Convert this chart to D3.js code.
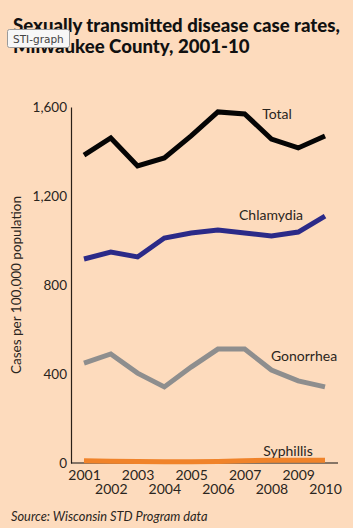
<!DOCTYPE html>
<html lang="en">
  <head>
    <meta charset="UTF-8">
    <title>STI graph</title>
    <style>
      body {
        margin: 0;
        background: #fddbbd;
      }

      svg {
        display: block;
        font-family: Lato, 'Open Sans', sans-serif;
      }
    </style>
  </head>
  <body>
    <div id="chart"></div>

    <script src="https://d3js.org/d3.v7.min.js"></script>
    <script>
      const years = [2001, 2002, 2003, 2004, 2005, 2006, 2007, 2008, 2009, 2010];
      const total = [1384, 1461, 1335, 1371, 1470, 1578, 1569, 1456, 1416, 1470];
      const chlamydia = [917, 948, 926, 1011, 1034, 1047, 1034, 1020, 1038, 1110];
      const gonorrhea = [449, 490, 404, 342, 431, 512, 512, 418, 369, 342];
      const syphilis = [10, 8, 7, 6, 6, 7, 10, 12, 12, 12];
      const yTicks = [0, 400, 800, 1200, 1600];

      const width = 353;
      const height = 528;

      const svg = d3.select('#chart').append('svg')
        .attr('width', width)
        .attr('height', height);

      svg.append('rect')
        .attr('width', width)
        .attr('height', height)
        .attr('fill', '#fddbbd');

      const x = d3.scaleLinear().domain([2001, 2010]).range([84, 325]);
      const y = d3.scaleLinear().domain([0, 1600]).range([463, 107]);

      // title
      const title = svg.append('g')
        .attr('font-weight', 900)
        .attr('fill', '#111');
      const t1 = title.append('text').attr('x', 13).attr('y', 32)
        .attr('font-size', 17)
        .text('Sexually transmitted disease case rates,');
      const w = t1.node().getComputedTextLength();
      const fs = 17 * 327 / w;
      t1.attr('font-size', fs);
      title.append('text').attr('x', 13).attr('y', 53)
        .attr('font-size', fs)
        .text('Milwaukee County, 2001-10');

      // axes
      const yAxis = svg.append('g')
        .attr('transform', 'translate(71,0)')
        .call(d3.axisLeft(y).tickValues(yTicks).tickSize(0).tickPadding(4)
          .tickFormat(d3.format(',')));
      yAxis.select('.domain').attr('stroke', '#2a2018').attr('stroke-width', 1.2);
      yAxis.selectAll('text')
        .attr('font-family', 'Lato, sans-serif')
        .attr('font-size', 13.5)
        .attr('fill', '#2a2520');

      const xAxis = svg.append('g')
        .attr('transform', `translate(0,${y(0)})`)
        .call(d3.axisBottom(x).tickValues(years).tickSize(0).tickFormat(d3.format('d')));
      xAxis.select('.domain')
        .attr('d', `M71,0H338`)
        .attr('stroke', '#111')
        .attr('stroke-width', 1.2);
      xAxis.selectAll('text')
        .attr('font-family', 'Lato, sans-serif')
        .attr('font-size', 14)
        .attr('fill', '#2a2520')
        .attr('y', (d, i) => i % 2 === 0 ? 7 : 21)
        .attr('dy', '0.71em');

      svg.append('text')
        .attr('transform', 'translate(21,285) rotate(-90)')
        .attr('text-anchor', 'middle')
        .attr('font-size', 13.5)
        .attr('fill', '#2a2520')
        .text('Cases per 100,000 population');

      // lines
      const line = d3.line()
        .x((d, i) => x(years[i]))
        .y(d => y(d));

      const series = [
        { label: 'Syphillis', values: syphilis, color: '#f0832a', lx: 288, ly: 456 },
        { label: 'Gonorrhea', values: gonorrhea, color: '#8e8e8e', lx: 304, ly: 361 },
        { label: 'Chlamydia', values: chlamydia, color: '#2b2a88', lx: 271, ly: 220 },
        { label: 'Total', values: total, color: '#050505', lx: 277, ly: 119 }
      ];

      series.forEach(s => {
        svg.append('path')
          .datum(s.values)
          .attr('d', line)
          .attr('fill', 'none')
          .attr('stroke', s.color)
          .attr('stroke-width', 5)
          .attr('stroke-linejoin', 'miter');

        svg.append('text')
          .attr('x', s.lx)
          .attr('y', s.ly)
          .attr('text-anchor', 'middle')
          .attr('font-size', 14)
          .attr('fill', '#2a2520')
          .text(s.label);
      });

      svg.append('text')
        .attr('x', 11)
        .attr('y', 521)
        .attr('font-size', 12.8)
        .attr('font-style', 'italic')
        .attr('fill', '#2a2520')
        .text('Source: Wisconsin STD Program data');

      // browser tooltip captured in the screenshot
      const tip = svg.append('g');
      tip.append('rect')
        .attr('x', 7.5).attr('y', 29.5)
        .attr('width', 62).attr('height', 18)
        .attr('rx', 2)
        .attr('fill', '#f7f7f7')
        .attr('stroke', '#9a9a9a');
      tip.append('text')
        .attr('x', 13).attr('y', 43)
        .attr('font-family', 'DejaVu Sans, sans-serif')
        .attr('font-size', 10.5)
        .attr('fill', '#444')
        .text('STI-graph');
    </script>
  </body>
</html>
